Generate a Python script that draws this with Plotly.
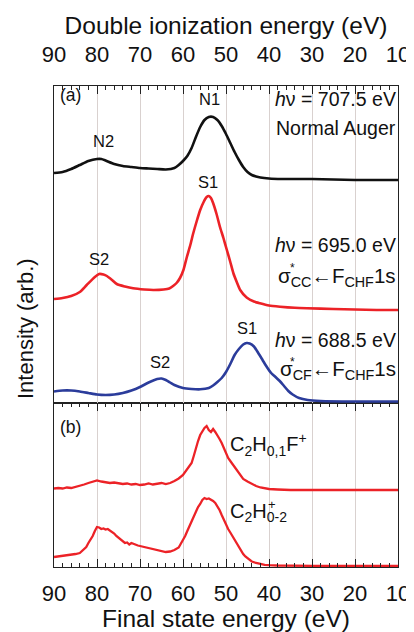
import plotly.graph_objects as go

# ---------------- data ----------------
# Panel (a): offset Auger spectra (arb. units, offsets included)
e_normal = [90, 88, 86, 84, 82, 80, 79, 78, 76, 74, 72, 70, 68, 66, 64, 62, 61, 60, 59, 58, 57, 56, 55, 54, 53,
            52, 51, 50, 49, 48, 47, 46, 45, 44, 43, 42, 40, 37, 30, 25, 20, 15, 10]
i_normal = [230, 231, 234, 238, 242, 244, 244, 242.5, 239, 237, 236, 235, 234.5, 234, 233.5, 235, 238, 242, 247,
            255, 266, 276, 283, 286, 286, 283, 277, 269, 260, 251, 243, 236, 231, 228, 226.5, 225.5, 224.5, 224,
            224, 223.5, 223, 223, 223]

e_cc = [90, 88, 86, 84, 82.4, 80.5, 79.5, 78.5, 77.7, 76.5, 75.4, 73.5, 71.6, 69, 66.9, 64.5, 63.2, 62.3, 61.5,
        60.7, 59.9, 59.1, 58.3, 57.6, 56.8, 56, 55.2, 54.5, 54, 53.5, 53, 52.2, 51.4, 50.6, 49.8, 49, 48.3, 47.5,
        46.7, 45.2, 43.5, 42.1, 40, 37.4, 34, 31.2, 25, 20, 15, 10]
i_cc = [104, 105, 107, 111, 118, 126, 129, 128.5, 127, 123, 119, 116.5, 114.7, 113.5, 113, 113.5, 114.5, 117,
        120, 125, 133, 146, 158, 170, 182, 193, 201, 206, 207, 205, 200, 189, 176, 165, 153, 141, 130, 121, 113,
        105.5, 101.5, 99.7, 97.5, 96.3, 95.2, 94.7, 94, 93.5, 93, 93]

e_cf = [90, 88, 86, 84, 82, 80, 78, 76, 74, 72, 70, 68, 66, 65, 64, 63, 62, 60, 58, 56, 54, 53, 52, 51, 50, 49,
        48, 47, 46, 45.2, 44.5, 43.5, 42.5, 41.5, 40.5, 39.5, 38.5, 37.5, 36.5, 35.5, 34.5, 33, 31, 28, 20, 10]
i_cf = [11.5, 12.5, 12.5, 11.5, 10, 8.5, 8, 8.5, 10, 12.5, 16, 20.5, 24, 24.5, 23, 20.5, 18, 15, 14, 13.7, 15,
        17.5, 21, 25, 31, 39, 48, 54, 58.5, 60, 59.5, 56.5, 50, 43, 36, 30, 26, 22, 17, 12, 8.5, 5, 3, 2, 1.5, 1.5]

# Panel (b): ion-coincidence spectra (arb. units, offsets included)
e_c2hf = [90, 89, 88, 87, 86, 85, 84, 83, 82, 81, 80, 79, 78, 77, 76, 75, 74, 73, 72, 71, 70, 69, 68, 67, 66, 65,
          64, 63, 62, 61, 60, 59.5, 59, 58.5, 58, 57.5, 57, 56.5, 56, 55.5, 55, 54.5, 54, 53.5, 53, 52.5, 52, 51.5,
          51, 50.5, 50, 49.5, 49, 48.5, 48, 47.5, 47, 46.5, 46, 45, 44, 43, 42, 41, 40, 38, 35, 30, 20, 10]
i_c2hf = [78.5, 79, 78.5, 79.5, 79, 80, 81, 82.5, 84, 85, 86.5, 85.5, 85, 84, 84.5, 83.5, 83, 83.5, 82.5, 83, 82,
          82.5, 83.5, 82.5, 83.5, 84, 83, 84, 86, 88.5, 92, 95, 97, 100, 104, 111, 119, 126, 132, 136, 139, 141,
          137, 135, 138, 135, 132, 128, 124, 119, 113, 109, 106, 103, 99, 96, 93, 90, 88, 85.5, 83, 81, 79.5,
          78.5, 78, 77.5, 77, 77, 77, 77]

e_c2h = [90, 89, 88, 87, 86, 85, 84, 83.5, 83, 82.5, 82, 81.5, 81, 80.5, 80, 79.5, 79, 78.5, 78, 77.5, 77, 76.5,
         76, 75.5, 75, 74.5, 74, 73.5, 73, 72.5, 72, 71.5, 71, 70.5, 70, 69, 68, 67, 66, 65, 64, 63, 62, 61, 60.5,
         60, 59.5, 59, 58.5, 58, 57.5, 57, 56.5, 56, 55.5, 55, 54.5, 54, 53.5, 53, 52.5, 52, 51.5, 51, 50.5, 50,
         49.5, 49, 48.5, 48, 47.5, 47, 46.5, 46, 45.5, 45, 44.5, 44, 43, 42, 41, 40, 38, 30, 20, 10]
i_c2h = [10, 10.5, 11, 11.5, 12, 13, 14, 16, 18, 20, 24, 27, 31, 36, 40, 39.5, 38, 38.5, 37.5, 38, 36.5, 35, 33.5,
         31, 29, 27, 25.5, 24, 24.5, 22.5, 24, 23, 22, 21.5, 21, 20, 19, 17.5, 17, 16, 15, 15.5, 17, 19.5, 23, 27,
         31, 36, 41, 46, 51, 56, 60, 63, 67, 69, 68, 68.5, 67.5, 66, 64, 61, 57, 52, 47, 42, 38, 34.5, 31, 27, 24,
         20, 16, 13, 10.5, 8.5, 7, 5.5, 4, 3, 2.2, 1.8, 1.5, 1.2, 1, 1]

x_range = [90, 10]
tick_vals = [90, 80, 70, 60, 50, 40, 30, 20, 10]
tick_text = ["90", "80", "70", "60", "50", "40", "30", "20", "10"]

BLACK = "#111111"
RED = "#ec2227"
BLUE = "#2b3c9b"
FONT = "Liberation Sans, Arial, sans-serif"

fig = go.Figure()
lw = 2.6
fig.add_trace(go.Scatter(x=e_normal, y=i_normal, mode="lines", line=dict(color=BLACK, width=lw, shape="spline", smoothing=0.6),
                         xaxis="x2", yaxis="y2", showlegend=False))
fig.add_trace(go.Scatter(x=e_cc, y=i_cc, mode="lines", line=dict(color=RED, width=lw, shape="spline", smoothing=0.6),
                         xaxis="x2", yaxis="y2", showlegend=False))
fig.add_trace(go.Scatter(x=e_cf, y=i_cf, mode="lines", line=dict(color=BLUE, width=lw, shape="spline", smoothing=0.6),
                         xaxis="x2", yaxis="y2", showlegend=False))
fig.add_trace(go.Scatter(x=e_c2hf, y=i_c2hf, mode="lines", line=dict(color=RED, width=2.3),
                         xaxis="x", yaxis="y", showlegend=False))
fig.add_trace(go.Scatter(x=e_c2h, y=i_c2h, mode="lines", line=dict(color=RED, width=2.3),
                         xaxis="x", yaxis="y", showlegend=False))

split = (567 - 403) / 481.0

common_x = dict(range=x_range, tickvals=tick_vals, ticktext=tick_text, ticks="inside", ticklen=8, tickwidth=1,
                tickcolor="#222", showline=True, linecolor="#222", linewidth=1.3, showgrid=True,
                gridcolor="#d9d1cf", gridwidth=1, zeroline=False, automargin=False,
                tickfont=dict(family=FONT, size=22, color="#111"),
                minor=dict(dtick=2, ticks="inside", ticklen=4, tickwidth=1, tickcolor="#222", showgrid=False))

# page body has an 8px default margin, so the figure is sized/offset to land on the 414x632 window
fig.update_layout(
    width=406, height=624,
    margin=dict(l=46, r=16, t=78, b=65, autoexpand=False),
    paper_bgcolor="white", plot_bgcolor="white",
    xaxis=dict(**common_x, anchor="y", side="bottom", mirror="ticks", ticklabelstandoff=6,
               title=dict(text="Final state energy (eV)", font=dict(family=FONT, size=24.5, color="#111"), standoff=4)),
    xaxis2=dict(**common_x, anchor="y2", side="top", mirror=True, matches="x", ticklabelstandoff=14,
                title=dict(text="Double ionization energy (eV)", font=dict(family=FONT, size=24.5, color="#111"), standoff=0)),
    yaxis=dict(domain=[0, split], range=[0, 164], showticklabels=False, ticks="", showgrid=False, zeroline=False,
               showline=True, linecolor="#222", linewidth=1.3, mirror=True),
    yaxis2=dict(domain=[split, 1], range=[0, 317], showticklabels=False, ticks="", showgrid=False, zeroline=False,
                showline=True, linecolor="#222", linewidth=1.3, mirror=True),
)

def ann(text, x, y, panel="a", size=19.5, xanchor="center", color="#111"):
    fig.add_annotation(text=text, x=x, y=y, xref="x2" if panel == "a" else "x",
                       yref="y2" if panel == "a" else "y", showarrow=False, xanchor=xanchor, yanchor="middle",
                       font=dict(family=FONT, size=size, color=color))

R = 10.0  # right edge for right-aligned labels
ann("(a)", 89.0, 308, size=17.5, xanchor="left")
ann("N1", 53.8, 304.5, size=16.5)
ann("N2", 78.5, 262, size=16.5)
ann("<i>h</i>ν = 707.5 eV", R, 304.5, xanchor="right")
ann("Normal Auger", R, 275, xanchor="right")

ann("S1", 54.1, 221.5, size=16.5)
ann("S2", 79.5, 143.7, size=16.5)
ann("<i>h</i>ν = 695.0 eV", R, 158, xanchor="right")
ann("σ<sub>CC</sub>←F<sub>CHF</sub>1s", R, 126.3, xanchor="right", size=20.5)
ann("*", 34.5, 135, size=12)

ann("S1", 45.2, 75, size=16.5)
ann("S2", 65.3, 41.3, size=16.5)
ann("<i>h</i>ν = 688.5 eV", R, 63, xanchor="right")
ann("σ<sub>CF</sub>←F<sub>CHF</sub>1s", R, 33, xanchor="right", size=20.5)
ann("*", 34.5, 41.5, size=12)

ann("(b)", 89.0, 140, panel="b", size=17.5, xanchor="left")
ann("C<sub>2</sub>H<sub>0,1</sub>F<sup>+</sup>", 49.6, 123, panel="b", size=20, xanchor="left")
ann("C<sub>2</sub>H<sub>0-2</sub>", 49.6, 55, panel="b", size=20, xanchor="left")
ann("+", 39.2, 63, panel="b", size=13)

fig.add_annotation(text="Intensity (arb.)", x=(25 - 54) / 344.0, y=(567 - 329) / 481.0, xref="paper", yref="paper",
                   showarrow=False, textangle=-90, xanchor="center", yanchor="middle",
                   font=dict(family=FONT, size=22, color="#111"))

fig.write_html("out.html")
